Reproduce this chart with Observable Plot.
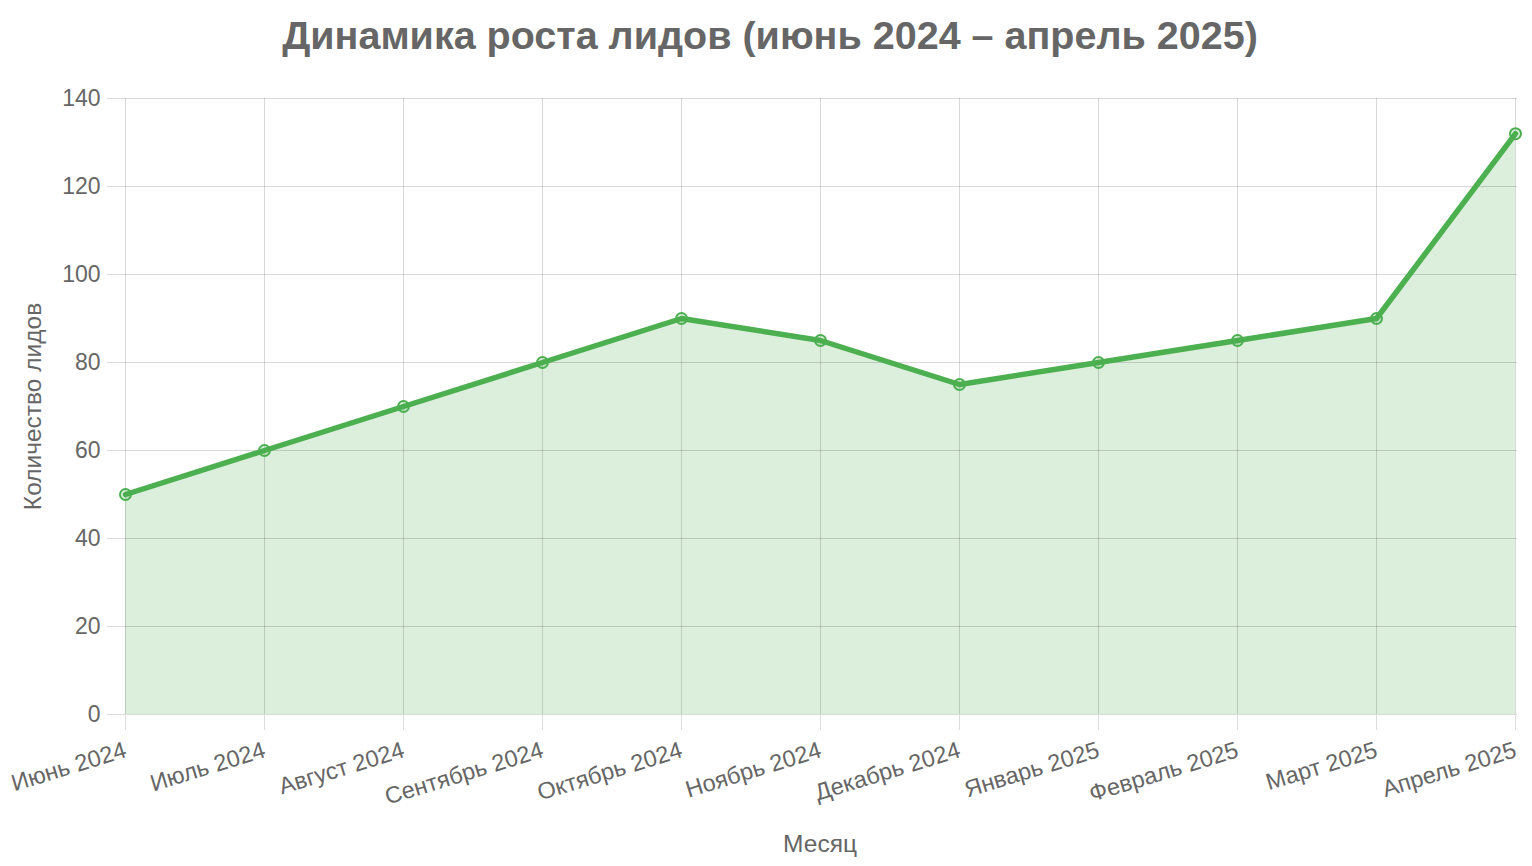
<!DOCTYPE html>
<html>
<head>
<meta charset="utf-8">
<script src="https://cdn.jsdelivr.net/npm/d3@7"></script>
<script src="https://cdn.jsdelivr.net/npm/@observablehq/plot@0.6"></script>
<style>
  html, body { margin: 0; padding: 0; background: #fff; }
  body { width: 1532px; height: 866px; overflow: hidden; font-family: "Liberation Sans", Arial, Helvetica, sans-serif; }
  #title { height: 70px; line-height: 70px; text-align: center; font-size: 39.5px; font-weight: bold; color: #666; white-space: nowrap; padding-left: 8px; }
  #chart svg { display: block; }
</style>
</head>
<body>
<div id="title">Динамика роста лидов (июнь 2024 – апрель 2025)</div>
<div id="chart"></div>
<script>
const months = ["Июнь 2024", "Июль 2024", "Август 2024", "Сентябрь 2024", "Октябрь 2024", "Ноябрь 2024", "Декабрь 2024", "Январь 2025", "Февраль 2025", "Март 2025", "Апрель 2025"];
const leads = [50, 60, 70, 80, 90, 85, 75, 80, 85, 90, 132];
const yTicks = [0, 20, 40, 60, 80, 100, 120, 140];

const data = months.map((m, i) => ({month: m, value: leads[i]}));
const green = "#4caf50";

const plot = Plot.plot({
  width: 1532,
  height: 796,
  marginTop: 28,
  marginBottom: 152,
  marginLeft: 122,
  marginRight: 15,
  style: {fontFamily: "'Liberation Sans', Arial, Helvetica, sans-serif", color: "#666", background: "#fff", fontSize: "23px"},
  x: {type: "point", domain: months, padding: 0},
  y: {domain: [0, 140]},
  marks: [
    Plot.areaY(data, {x: "month", y: "value", fill: green, fillOpacity: 0.2}),
    Plot.gridX(months, {stroke: "#000", strokeOpacity: 0.15}),
    Plot.gridY(yTicks, {stroke: "#000", strokeOpacity: 0.15}),
    Plot.axisY(yTicks, {tickSize: 15, tickPadding: 7, stroke: "#ddd", fill: "#666", fontSize: 23, label: null}),
    Plot.axisY({ticks: [], tickSize: 0, fill: "#666", fontSize: 24.5, label: "Количество лидов", labelAnchor: "center", labelArrow: "none", labelOffset: 99}),
    Plot.axisX(months, {tickSize: 16, tickPadding: 19, tickRotate: -17, stroke: "#ddd", fill: "#666", fontSize: 23.5, label: null}),
    Plot.axisX({ticks: [], tickSize: 0, fill: "#666", fontSize: 24.5, label: "Месяц", labelAnchor: "center", labelArrow: "none", labelOffset: 137}),
    Plot.lineY(data, {x: "month", y: "value", stroke: green, strokeWidth: 5.5}),
    Plot.dot(data, {x: "month", y: "value", r: 5.5, stroke: green, strokeWidth: 2, fill: green, fillOpacity: 0.2})
  ]
});
document.getElementById("chart").appendChild(plot);
</script>
</body>
</html>
